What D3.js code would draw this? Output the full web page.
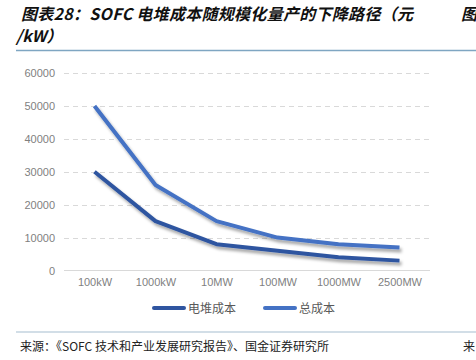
<!DOCTYPE html>
<html>
<head>
<meta charset="utf-8">
<script src="https://cdn.jsdelivr.net/npm/d3@7"></script>
<style>
  html, body { margin: 0; padding: 0; background: #fff; }
  svg { display: block; }
  .title { font-family: "Noto Sans CJK SC", sans-serif; font-weight: bold; font-style: italic; font-size: 16px; fill: #111; }
  .tick-label { font-family: "Liberation Sans", "DejaVu Sans", sans-serif; font-size: 11px; fill: #7f7f7f; }
  .legend-text { font-family: "Noto Sans CJK SC", sans-serif; font-size: 12px; fill: #595959; }
  .source { font-family: "Noto Sans CJK SC", sans-serif; font-size: 12px; fill: #222; }
</style>
</head>
<body>
<div id="chart"></div>
<script>
const categories = ["100kW", "1000kW", "10MW", "100MW", "1000MW", "2500MW"];
const stackCost = [30000, 15000, 8000, 6000, 4000, 3000];
const totalCost = [50000, 26000, 15000, 10000, 8000, 7000];
const yTicks = [0, 10000, 20000, 30000, 40000, 50000, 60000];
const seriesNames = ["电堆成本", "总成本"];
const seriesColors = ["#2f55a0", "#4472c4"];

const width = 476;
const height = 360;

const svg = d3.select("#chart")
    .append("svg")
    .attr("width", width)
    .attr("height", height);

// drop shadow like the office chart
const defs = svg.append("defs");
const f = defs.append("filter").attr("id", "shadow")
    .attr("x", "-10%").attr("y", "-10%").attr("width", "130%").attr("height", "140%");
f.append("feDropShadow")
    .attr("dx", 2).attr("dy", 3)
    .attr("stdDeviation", 1.6)
    .attr("flood-color", "#000")
    .attr("flood-opacity", 0.35);

// title
svg.append("text").attr("class", "title").attr("x", 21).attr("y", 20)
    .attr("textLength", 392).attr("lengthAdjust", "spacing")
    .text("图表28：SOFC 电堆成本随规模化量产的下降路径（元");
svg.append("text").attr("class", "title").attr("x", 16).attr("y", 42)
    .text("/kW）");
svg.append("text").attr("class", "title").attr("x", 461).attr("y", 20).text("图");

svg.append("line")
    .attr("x1", 16).attr("x2", width)
    .attr("y1", 50.5).attr("y2", 50.5)
    .attr("stroke", "#7fa6c2").attr("stroke-width", 1.5);

const x = d3.scalePoint()
    .domain(categories)
    .range([64, 430])
    .padding(0.5);

const y = d3.scaleLinear()
    .domain([0, 60000])
    .range([270.5, 73]);

// gridlines
svg.append("g")
    .selectAll("line")
    .data(yTicks.filter(d => d > 0))
    .enter().append("line")
    .attr("x1", 64).attr("x2", 430)
    .attr("y1", d => Math.round(y(d)) + 0.5)
    .attr("y2", d => Math.round(y(d)) + 0.5)
    .attr("stroke", "#d9d9d9")
    .attr("stroke-dasharray", "5,4");

// y axis labels
const yAxis = svg.append("g")
    .attr("transform", "translate(64,0)")
    .call(d3.axisLeft(y).tickValues(yTicks).tickSize(0).tickPadding(9).tickFormat(d3.format("d")));
yAxis.select(".domain").remove();
yAxis.selectAll("text").attr("class", "tick-label").attr("font-family", null).attr("font-size", null);

// x axis
const xAxis = svg.append("g")
    .attr("transform", "translate(0,270.5)")
    .call(d3.axisBottom(x).tickSize(0).tickPadding(8));
xAxis.select(".domain")
    .attr("d", "M64,0H430")
    .attr("stroke", "#d9d9d9");
xAxis.selectAll("text").attr("class", "tick-label").attr("font-family", null).attr("font-size", null);

const line = d3.line()
    .x((d, i) => x(categories[i]))
    .y(d => y(d));

[stackCost, totalCost].forEach((vals, k) => {
    svg.append("path")
        .datum(vals)
        .attr("d", line)
        .attr("fill", "none")
        .attr("stroke", seriesColors[k])
        .attr("stroke-width", 4)
        .attr("stroke-linejoin", "round")
        .attr("filter", "url(#shadow)");
});

// legend
const legendX = [152, 263];
seriesNames.forEach((name, k) => {
    const g = svg.append("g").attr("transform", `translate(${legendX[k]},308)`);
    g.append("line")
        .attr("x1", 2).attr("x2", 32)
        .attr("stroke", seriesColors[k])
        .attr("stroke-width", 4)
        .attr("stroke-linecap", "round");
    g.append("text").attr("class", "legend-text")
        .attr("x", 36).attr("y", 4.5)
        .text(name);
});

// bottom rule and source
svg.append("line")
    .attr("x1", 16).attr("x2", width)
    .attr("y1", 332).attr("y2", 332)
    .attr("stroke", "#c3d3df").attr("stroke-width", 1.5);

svg.append("text").attr("class", "source").attr("x", 20).attr("y", 351)
    .text("来源：《SOFC 技术和产业发展研究报告》、国金证券研究所");
svg.append("text").attr("class", "source").attr("x", 463).attr("y", 351).text("来");
</script>
</body>
</html>
